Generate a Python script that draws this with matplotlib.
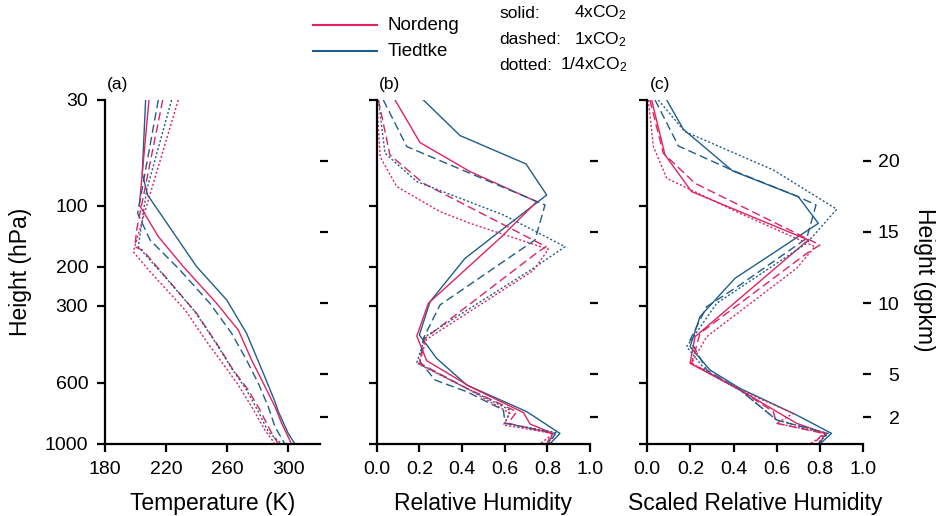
import numpy as np
import matplotlib
matplotlib.use("Agg")
from matplotlib import pyplot as plt
from matplotlib.lines import Line2D

plt.rcParams['font.family'] = ['Liberation Sans', 'DejaVu Sans']
plt.rcParams['mathtext.default'] = 'regular'

RED = '#e0235f'
BLUE = '#1f5d8c'

# left axis: pressure labels placed at their height (gpkm)
p_labels = ['30', '100', '200', '300', '600', '1000']
p_heights = [24.26, 16.82, 12.56, 9.80, 4.41, 0.105]
km_ticks = [2, 5, 10, 15, 20]
km_labels = ['2', '5', '10', '15', '20']

# ---- panel (a): temperature (K) ----
ta_t4_h = [24.26, 19.11, 17.59, 15.13, 12.56, 10.22, 7.88, 5.07, 3.08, 2.38, 0.85, 0.105]
ta_t4 = [206.6, 204.4, 207.9, 223.6, 240.0, 259.7, 272.7, 283.7, 291.3, 293.5, 300.0, 304.4]
ta_n4_h = [24.26, 16.89, 14.67, 12.56, 9.98, 8.11, 6.00, 4.37, 2.73, 1.56, 0.105]
ta_n4 = [208.8, 202.5, 214.9, 231.3, 253.1, 267.3, 276.0, 283.7, 291.3, 295.7, 302.2]
ta_t1_h = [24.26, 16.30, 14.43, 12.32, 9.98, 7.88, 6.00, 4.37, 2.73, 1.32, 0.105]
ta_t1 = [214.9, 201.4, 209.5, 229.1, 248.7, 262.9, 272.7, 280.4, 286.9, 291.3, 297.8]
ta_n1_h = [24.26, 15.13, 13.96, 13.68, 11.74, 9.28, 7.17, 5.30, 3.90, 2.49, 1.09, 0.105]
ta_n1 = [217.8, 200.7, 199.6, 205.1, 220.4, 240.0, 253.1, 264.0, 273.8, 281.5, 288.0, 293.5]
ta_tq_h = [24.26, 17.94, 13.96, 11.97, 9.40, 7.29, 5.42, 3.90, 2.38, 0.97, 0.105]
ta_tq = [223.6, 207.3, 201.8, 218.2, 238.9, 252.0, 262.9, 272.7, 280.4, 286.9, 295.7]
ta_nq_h = [24.26, 17.24, 13.61, 12.21, 9.52, 7.29, 5.54, 4.25, 2.73, 1.09, 0.105]
ta_nq = [228.0, 208.4, 198.5, 209.5, 232.4, 246.6, 258.6, 267.3, 276.0, 284.7, 291.3]

# ---- panel (b): relative humidity ----
rh_t4_h = [24.26, 21.76, 19.77, 17.59, 13.14, 10.10, 7.76, 6.12, 4.25, 2.38, 0.85, 0.105]
rh_t4 = [0.219, 0.391, 0.700, 0.797, 0.414, 0.250, 0.200, 0.281, 0.422, 0.703, 0.859, 0.812]
rh_n4_h = [24.26, 21.27, 19.23, 17.12, 14.67, 9.98, 7.69, 5.96, 4.13, 2.31, 1.51, 0.85, 0.105]
rh_n4 = [0.086, 0.203, 0.438, 0.750, 0.586, 0.242, 0.188, 0.234, 0.438, 0.688, 0.719, 0.825, 0.805]
rh_t1_h = [24.26, 20.99, 16.89, 14.43, 9.87, 7.53, 5.89, 4.60, 3.78, 2.49, 1.56, 0.85, 0.105]
rh_t1 = [0.031, 0.141, 0.789, 0.742, 0.297, 0.219, 0.203, 0.273, 0.422, 0.594, 0.602, 0.836, 0.812]
rh_n1_h = [24.26, 20.40, 18.41, 13.96, 13.61, 7.53, 5.77, 4.02, 2.38, 1.56, 0.85, 0.105]
rh_n1 = [0.008, 0.062, 0.219, 0.794, 0.758, 0.227, 0.203, 0.422, 0.656, 0.617, 0.820, 0.797]
rh_tq_h = [24.26, 20.52, 18.53, 16.19, 13.96, 12.44, 7.64, 5.82, 4.02, 2.49, 1.56, 0.90, 0.105]
rh_tq = [0.008, 0.039, 0.188, 0.594, 0.883, 0.734, 0.227, 0.188, 0.422, 0.625, 0.602, 0.844, 0.797]
rh_nq_h = [24.26, 20.28, 18.18, 16.42, 15.60, 13.78, 12.28, 7.46, 5.72, 4.01, 2.26, 1.44, 0.85, 0.105]
rh_nq = [0.0, 0.016, 0.094, 0.297, 0.438, 0.805, 0.734, 0.234, 0.195, 0.422, 0.625, 0.594, 0.828, 0.766]

# ---- panel (c): scaled relative humidity ----
sr_t4_h = [24.26, 22.20, 19.28, 17.47, 15.60, 11.74, 9.05, 6.94, 5.30, 4.01, 2.14, 0.85, 0.105]
sr_t4 = [0.090, 0.167, 0.395, 0.699, 0.792, 0.406, 0.244, 0.198, 0.290, 0.429, 0.691, 0.853, 0.799]
sr_n4_h = [24.26, 20.40, 17.83, 14.43, 7.64, 5.77, 3.90, 1.56, 0.85, 0.105]
sr_n4 = [0.020, 0.082, 0.205, 0.745, 0.221, 0.198, 0.429, 0.691, 0.823, 0.799]
sr_t1_h = [24.26, 21.03, 19.35, 17.52, 16.89, 14.55, 11.27, 9.75, 7.41, 5.30, 3.90, 1.79, 0.85, 0.105]
sr_t1 = [0.036, 0.144, 0.390, 0.691, 0.781, 0.738, 0.429, 0.275, 0.198, 0.275, 0.429, 0.599, 0.830, 0.792]
sr_n1_h = [24.26, 20.52, 18.41, 14.08, 13.49, 7.88, 5.77, 3.90, 2.38, 1.56, 0.85, 0.105]
sr_n1 = [0.012, 0.074, 0.221, 0.799, 0.738, 0.244, 0.205, 0.429, 0.583, 0.599, 0.815, 0.769]
sr_tq_h = [24.26, 22.04, 19.35, 16.59, 14.20, 9.98, 6.94, 5.19, 3.90, 1.79, 0.85, 0.105]
sr_tq = [0.051, 0.174, 0.583, 0.877, 0.738, 0.321, 0.182, 0.275, 0.429, 0.599, 0.838, 0.784]
sr_nq_h = [24.26, 20.99, 18.76, 16.30, 13.96, 12.44, 7.64, 5.77, 3.90, 2.26, 1.56, 0.85, 0.105]
sr_nq = [0.005, 0.028, 0.090, 0.429, 0.776, 0.691, 0.275, 0.205, 0.429, 0.676, 0.599, 0.830, 0.753]

dashed = (0, (6, 3))
dotted = (0, (1.5, 1.5))

panels = [
    [(ta_t4, ta_t4_h, BLUE, '-'), (ta_n4, ta_n4_h, RED, '-'),
     (ta_t1, ta_t1_h, BLUE, dashed), (ta_n1, ta_n1_h, RED, dashed),
     (ta_tq, ta_tq_h, BLUE, dotted), (ta_nq, ta_nq_h, RED, dotted)],
    [(rh_t4, rh_t4_h, BLUE, '-'), (rh_n4, rh_n4_h, RED, '-'),
     (rh_t1, rh_t1_h, BLUE, dashed), (rh_n1, rh_n1_h, RED, dashed),
     (rh_tq, rh_tq_h, BLUE, dotted), (rh_nq, rh_nq_h, RED, dotted)],
    [(sr_t4, sr_t4_h, BLUE, '-'), (sr_n4, sr_n4_h, RED, '-'),
     (sr_t1, sr_t1_h, BLUE, dashed), (sr_n1, sr_n1_h, RED, dashed),
     (sr_tq, sr_tq_h, BLUE, dotted), (sr_nq, sr_nq_h, RED, dotted)],
]

W, H = 937.0, 516.0
fig = plt.figure(figsize=(W / 100, H / 100), dpi=100)

# axes boxes in pixels: left, right
boxes = [(105, 320), (376.7, 590), (647.3, 863.3)]
top_px, bot_px = 100, 444
xlims = [(180, 320.8), (0, 1.0), (0, 1.0)]
xticks = [[180, 220, 260, 300], [0, 0.2, 0.4, 0.6, 0.8, 1.0], [0, 0.2, 0.4, 0.6, 0.8, 1.0]]
xlabels = ['Temperature (K)', 'Relative Humidity', 'Scaled Relative Humidity']
letters = ['(a)', '(b)', '(c)']

for i, (l, r) in enumerate(boxes):
    ax = fig.add_axes([l / W, (H - bot_px) / H, (r - l) / W, (bot_px - top_px) / H])
    for x, h, c, ls in panels[i]:
        ax.plot(x, h, color=c, ls=ls, lw=1.0)
    ax.set_xlim(*xlims[i])
    ax.set_ylim(0.105, 24.26)
    ax.set_xticks(xticks[i])
    if i == 0:
        ax.set_xticklabels([str(v) for v in xticks[i]])
    else:
        ax.set_xticklabels(['%.1f' % v for v in xticks[i]])
    ax.set_yticks(p_heights)
    if i == 0:
        ax.set_yticklabels(p_labels)
        ax.set_ylabel('Height (hPa)', fontsize=16.5, labelpad=9)
    else:
        ax.set_yticklabels([])
    ax.set_xlabel(xlabels[i], fontsize=16.5, labelpad=10)
    for s in ['top', 'right']:
        ax.spines[s].set_visible(False)
    for s in ['left', 'bottom']:
        ax.spines[s].set_linewidth(1.6)
    ax.tick_params(direction='out', length=6, width=1.6, labelsize=14, pad=6)

    sec = ax.secondary_yaxis('right')
    sec.spines['right'].set_visible(False)
    sec.set_yticks(km_ticks)
    sec.tick_params(direction='out', length=6, width=1.6, labelsize=14, pad=20)
    if i == 2:
        sec.set_yticklabels(km_labels)
        for lab in sec.get_yticklabels():
            lab.set_horizontalalignment('right')
    else:
        sec.set_yticklabels([])

    fig.text((l + 13) / W, 1 - 84 / H, letters[i], fontsize=12.5, ha='center', va='center')

fig.text(925 / W, 1 - 280 / H, 'Height (gpkm)', rotation=270, fontsize=16.5,
         ha='center', va='center')

# legend
for y, c, name in [(25, RED, 'Nordeng'), (51, BLUE, 'Tiedtke')]:
    fig.add_artist(Line2D([313 / W, 377 / W], [1 - y / H] * 2, color=c, lw=1.5,
                          transform=fig.transFigure))
    fig.text(388 / W, 1 - y / H, name, fontsize=13.5, va='center')

for y, a, b in [(13, 'solid:', '4xCO$_2$'), (40, 'dashed:', '1xCO$_2$'),
                (65, 'dotted:', '1/4xCO$_2$')]:
    fig.text(499 / W, 1 - y / H, a, fontsize=12.5, va='center')
    fig.text(627 / W, 1 - y / H, b, fontsize=12.5, va='center', ha='right')

fig.savefig('out.png', dpi=100)
